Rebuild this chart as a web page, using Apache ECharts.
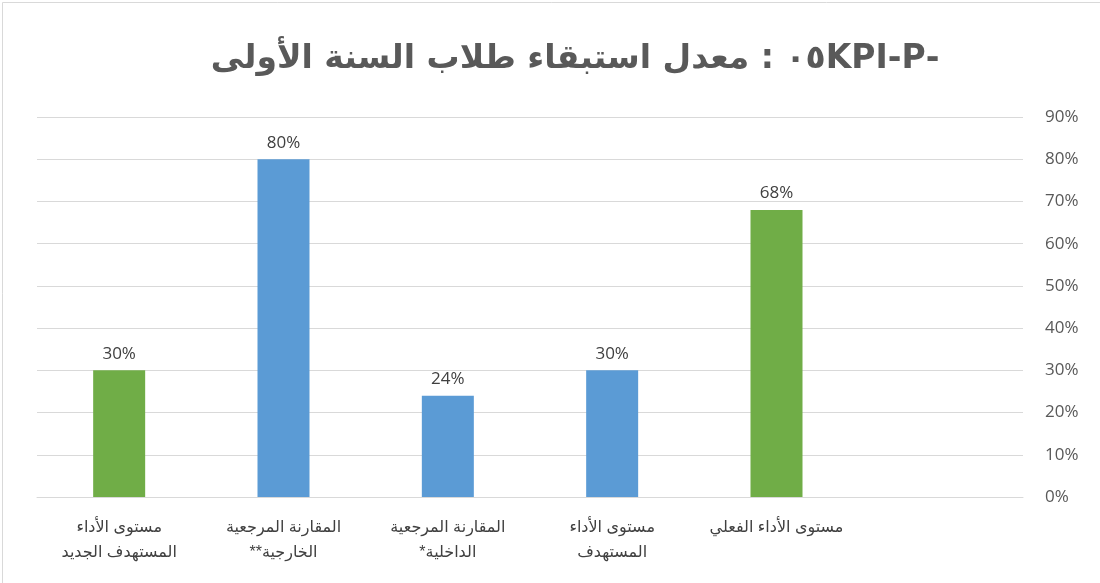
<!DOCTYPE html>
<html>
<head>
<meta charset="utf-8">
<script src="https://cdn.jsdelivr.net/npm/echarts@6/dist/echarts.min.js"></script>
<style>
  html, body { margin: 0; padding: 0; background: #fff; }
  #chart { width: 1100px; height: 583px; }
</style>
</head>
<body>
<div id="chart"></div>
<script>
// RTL wrappers so neutral chars (*, -) land where Arabic text expects them
const rtl = (s) => s.split('\n').map(l => '\u202B' + l + '\u202C').join('\n');

const titleText = '-٠٥KPI-P : معدل استبقاء طلاب السنة الأولى';

// left to right as drawn; last slot is empty in the reference
const categories = [
    'مستوى الأداء\nالمستهدف الجديد',
    'المقارنة المرجعية\nالخارجية**',
    'المقارنة المرجعية\nالداخلية*',
    'مستوى الأداء\nالمستهدف',
    'مستوى الأداء الفعلي',
    ''
];
const values = [30, 80, 24, 30, 68, null];
const barColors = ['#70AD47', '#5B9BD5', '#5B9BD5', '#5B9BD5', '#70AD47', '#5B9BD5'];

const yMax = 90;
const yStep = 10;

const chart = echarts.init(document.getElementById('chart'));

chart.setOption({
    animation: false,
    backgroundColor: '#fff',
    textStyle: { fontFamily: 'Liberation Sans, DejaVu Sans, sans-serif' },
    graphic: [{
        type: 'rect',
        left: 0, top: 0,
        shape: { width: 1099, height: 582 },
        style: { fill: 'none', stroke: '#d9d9d9', lineWidth: 1 },
        silent: true
    }],
    title: {
        text: rtl(titleText),
        left: 570,
        top: 38,
        textAlign: 'center',
        textStyle: {
            fontSize: 33,
            fontWeight: 'bold',
            color: '#595959',
            fontFamily: 'DejaVu Sans, Liberation Sans, sans-serif'
        }
    },
    grid: { left: 37, right: 77, top: 117, bottom: 86 },
    xAxis: {
        type: 'category',
        data: categories.map(rtl),
        axisLine: { lineStyle: { color: '#d9d9d9' } },
        axisTick: { show: false },
        axisLabel: {
            color: '#404040',
            fontSize: 16,
            lineHeight: 25,
            margin: 18,
            interval: 0
        }
    },
    yAxis: {
        type: 'value',
        position: 'right',
        min: 0,
        max: yMax,
        interval: yStep,
        axisLine: { show: false },
        axisTick: { show: false },
        splitLine: { lineStyle: { color: '#d9d9d9' } },
        axisLabel: {
            formatter: '{value}%',
            color: '#595959',
            fontSize: 17,
            margin: 22,
            fontFamily: 'Open Sans, Liberation Sans, sans-serif'
        }
    },
    series: [{
        type: 'bar',
        data: values.map((v, i) => ({ value: v, itemStyle: { color: barColors[i] } })),
        barWidth: 52,
        label: {
            show: true,
            position: 'top',
            distance: 8,
            formatter: (p) => p.value + '%',
            color: '#404040',
            fontSize: 17,
            fontFamily: 'Open Sans, Liberation Sans, sans-serif'
        }
    }]
});
</script>
</body>
</html>
